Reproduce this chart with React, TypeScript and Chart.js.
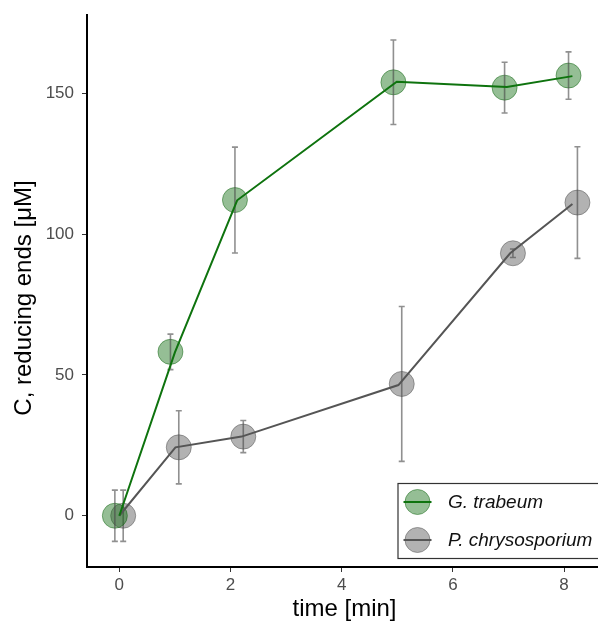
import React, { useEffect, useRef } from "react";
import { Chart, registerables } from "chart.js";
Chart.register(...registerables);

const SERIES_NAMES = ["G. trabeum", "P. chrysosporium"];
const X_TITLE = "time [min]";
const Y_TITLE = "C, reducing ends [μM]";

// G. trabeum (points are slightly jittered in time)
const gtTime = [-0.08, 0.92, 2.08, 4.93, 6.93, 8.08];
const gtMean = [0, 58.2, 112.1, 153.9, 152.0, 156.3];
const gtErr = [9.1, 6.3, 18.8, 15.0, 9.0, 8.4];
const gtLineTime = [0, 1.0, 2.12, 4.99, 6.97, 8.15];
const gtLineMean = [0, 58.0, 112.0, 154.1, 152.2, 156.1];

// P. chrysosporium
const pcTime = [0.07, 1.07, 2.23, 5.08, 7.08, 8.24];
const pcMean = [0, 24.3, 28.1, 46.8, 93.2, 111.2];
const pcErr = [9.1, 13.0, 5.7, 27.5, 1.5, 19.8];
const pcLineTime = [0, 1.01, 2.2, 5.02, 7.03, 8.15];
const pcLineMean = [0, 24.3, 28.1, 46.4, 93.2, 110.7];

const xTicks = [0, 2, 4, 6, 8];
const yTicks = [0, 50, 100, 150];

const FONT = '"Liberation Sans", Arial, Helvetica, sans-serif';
const GREEN_LINE = "#0e730e";
const GREEN_FILL = "rgba(20,110,20,0.45)";
const GREEN_EDGE = "rgba(0,90,0,0.45)";
const GRAY_LINE = "#555555";
const GRAY_FILL = "rgba(95,95,95,0.48)";
const GRAY_EDGE = "rgba(80,80,80,0.5)";

const toXY = (xs: number[], ys: number[]) => xs.map((x, i) => ({ x, y: ys[i] }));

const errorBarPlugin = {
  id: "errorBars",
  afterDatasetDraw(chart: any, args: any) {
    const ds = chart.data.datasets[args.index];
    if (!ds.errors) return;
    const meta = chart.getDatasetMeta(args.index);
    const ys = chart.scales.y;
    const ctx = chart.ctx;
    ctx.save();
    ctx.strokeStyle = "rgba(70,70,70,0.6)";
    ctx.lineWidth = 1.6;
    meta.data.forEach((pt: any, i: number) => {
      const v = ds.data[i].y;
      const e = ds.errors[i];
      const top = ys.getPixelForValue(v + e);
      const bot = ys.getPixelForValue(v - e);
      const x = pt.x;
      ctx.beginPath();
      ctx.moveTo(x, top);
      ctx.lineTo(x, bot);
      ctx.moveTo(x - 3, top);
      ctx.lineTo(x + 3, top);
      ctx.moveTo(x - 3, bot);
      ctx.lineTo(x + 3, bot);
      ctx.stroke();
    });
    ctx.restore();
  },
};

const decorPlugin = {
  id: "decor",
  afterDraw(chart: any) {
    const ctx = chart.ctx;
    const area = chart.chartArea;
    ctx.save();
    // axis titles
    ctx.fillStyle = "#000";
    ctx.font = `24px ${FONT}`;
    ctx.textAlign = "center";
    ctx.textBaseline = "alphabetic";
    ctx.fillText(X_TITLE, (area.left + area.right) / 2 + 2, 616);
    ctx.save();
    ctx.translate(31, 298);
    ctx.rotate(-Math.PI / 2);
    ctx.fillText(Y_TITLE, 0, 0);
    ctx.restore();

    // legend
    const lx = 398, ly = 483.5, lw = 210, lh = 75;
    ctx.fillStyle = "#fff";
    ctx.fillRect(lx, ly, lw, lh);
    ctx.strokeStyle = "#333";
    ctx.lineWidth = 1.2;
    ctx.strokeRect(lx, ly, lw, lh);
    const items = [
      { name: SERIES_NAMES[0], fill: GREEN_FILL, edge: GREEN_EDGE, line: GREEN_LINE, y: 502 },
      { name: SERIES_NAMES[1], fill: GRAY_FILL, edge: GRAY_EDGE, line: GRAY_LINE, y: 540 },
    ];
    items.forEach((it) => {
      const cx = 417.5;
      ctx.beginPath();
      ctx.arc(cx, it.y, 12.5, 0, Math.PI * 2);
      ctx.fillStyle = it.fill;
      ctx.fill();
      ctx.strokeStyle = it.edge;
      ctx.lineWidth = 1;
      ctx.stroke();
      ctx.beginPath();
      ctx.moveTo(cx - 14, it.y);
      ctx.lineTo(cx + 14, it.y);
      ctx.strokeStyle = it.line;
      ctx.lineWidth = 2;
      ctx.stroke();
      ctx.fillStyle = "#111";
      ctx.font = `italic 19px ${FONT}`;
      ctx.textAlign = "left";
      ctx.textBaseline = "middle";
      ctx.fillText(it.name, 448, it.y + 1);
    });
    ctx.restore();
  },
};

export default function App() {
  const ref = useRef<HTMLCanvasElement | null>(null);
  useEffect(() => {
    document.body.style.margin = "0";
    const canvas = ref.current!;
    const chart = new Chart(canvas, {
      type: "scatter",
      data: {
        datasets: [
          {
            label: SERIES_NAMES[0] + " line",
            data: toXY(gtLineTime, gtLineMean),
            showLine: true,
            borderColor: GREEN_LINE,
            borderWidth: 2,
            pointRadius: 0,
            order: 1,
          },
          {
            label: SERIES_NAMES[1] + " line",
            data: toXY(pcLineTime, pcLineMean),
            showLine: true,
            borderColor: GRAY_LINE,
            borderWidth: 2,
            pointRadius: 0,
            order: 1,
          },
          {
            label: SERIES_NAMES[0],
            data: toXY(gtTime, gtMean),
            errors: gtErr,
            pointRadius: 12.5,
            backgroundColor: GREEN_FILL,
            borderColor: GREEN_EDGE,
            borderWidth: 1,
            order: 2,
          } as any,
          {
            label: SERIES_NAMES[1],
            data: toXY(pcTime, pcMean),
            errors: pcErr,
            pointRadius: 12.5,
            backgroundColor: GRAY_FILL,
            borderColor: GRAY_EDGE,
            borderWidth: 1,
            order: 3,
          } as any,
        ],
      },
      options: {
        animation: false,
        responsive: false,
        devicePixelRatio: 1,
        layout: { autoPadding: false, padding: { top: 15, left: 0, right: 0, bottom: 0 } },
        plugins: { legend: { display: false }, tooltip: { enabled: false } },
        scales: {
          x: {
            type: "linear",
            min: -0.581,
            max: 8.61,
            afterBuildTicks: (s: any) => {
              s.ticks = xTicks.map((v) => ({ value: v }));
            },
            afterFit: (s: any) => {
              s.height = 55;
              s.paddingLeft = 0;
              s.paddingRight = 0;
            },
            grid: { drawOnChartArea: false, drawTicks: true, tickLength: 5, color: "#333", lineWidth: 1 },
            border: { display: true, color: "#000", width: 2 },
            ticks: { font: { family: FONT, size: 17 }, color: "#4d4d4d", padding: 3, maxRotation: 0 },
          },
          y: {
            type: "linear",
            min: -18.2,
            max: 177.8,
            afterBuildTicks: (s: any) => {
              s.ticks = yTicks.map((v) => ({ value: v }));
            },
            afterFit: (s: any) => {
              s.width = 87;
              s.paddingTop = 0;
              s.paddingBottom = 0;
            },
            grid: { drawOnChartArea: false, drawTicks: true, tickLength: 5, color: "#333", lineWidth: 1 },
            border: { display: true, color: "#000", width: 2 },
            ticks: { font: { family: FONT, size: 17 }, color: "#4d4d4d", padding: 8 },
          },
        },
      } as any,
      plugins: [errorBarPlugin, decorPlugin],
    });
    return () => chart.destroy();
  }, []);
  return (
    <div style={{ width: 598, height: 622 }}>
      <canvas ref={ref} width={598} height={622} style={{ display: "block" }} />
    </div>
  );
}
